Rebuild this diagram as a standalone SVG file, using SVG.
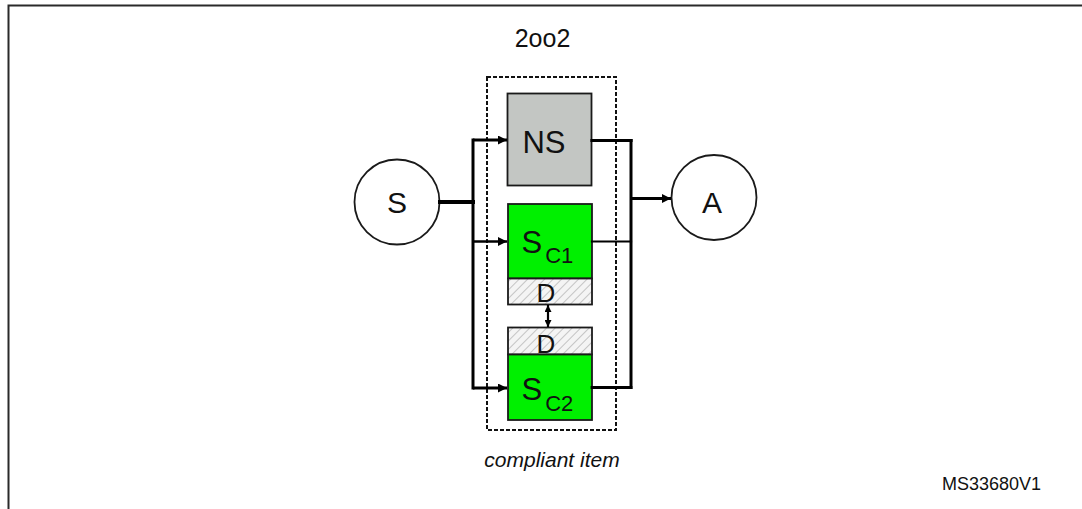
<svg xmlns="http://www.w3.org/2000/svg" width="1082" height="509" viewBox="0 0 1082 509">
<style>
text{font-family:"Liberation Sans",Arial,sans-serif;fill:#111}
.box{stroke:#1a1a1a;stroke-width:1.8}
.green{fill:#00f000}
.hatch{fill:url(#hatch)}
.conn{stroke:#000;fill:none;stroke-linecap:square}
</style>
<defs>
<pattern id="hatch" patternUnits="userSpaceOnUse" width="6" height="6" patternTransform="rotate(45)">
<rect width="6" height="6" fill="#f4f4f4"/>
<line x1="0" y1="0" x2="0" y2="6" stroke="#aaa" stroke-width="1.3"/>
</pattern>
<marker id="arr" markerUnits="userSpaceOnUse" markerWidth="9" markerHeight="9" viewBox="0 0 9 9" refX="9" refY="4.5" orient="auto">
<path d="M0,0 L9,4.5 L0,9 z" fill="#000"/>
</marker>
<marker id="sarr" markerUnits="userSpaceOnUse" markerWidth="7" markerHeight="7" viewBox="0 0 7 7" refX="7" refY="3.5" orient="auto-start-reverse">
<path d="M0,0 L7,3.5 L0,7 z" fill="#000"/>
</marker>
</defs>
<rect width="1082" height="509" fill="#fff"/>
<g id="frame">
<path d="M8.5,509 V5.5 H1082" fill="none" stroke="#2a2a2a" stroke-width="2"/>
</g>
<g id="compliant-item">
<rect x="487" y="77" width="129" height="353" fill="none" stroke="#111" stroke-width="2" stroke-dasharray="4,2"/>
<text x="542.5" y="47" font-size="25" text-anchor="middle">2oo2</text>
<text x="552" y="467" font-size="21" font-style="italic" text-anchor="middle">compliant item</text>
</g>
<g id="node-S">
<circle cx="397" cy="202" r="42.5" fill="#fff" stroke="#1a1a1a" stroke-width="1.8"/>
<text x="397" y="213" font-size="30" text-anchor="middle">S</text>
</g>
<g id="node-A">
<circle cx="714" cy="197.5" r="42.5" fill="#fff" stroke="#1a1a1a" stroke-width="1.8"/>
<text x="712" y="212.5" font-size="30" text-anchor="middle">A</text>
</g>
<g id="node-NS">
<rect class="box" x="507.5" y="93.5" width="84" height="92" fill="#c3c6c3"/>
<text x="544" y="153" font-size="31" text-anchor="middle">NS</text>
</g>
<g id="node-SC1">
<rect class="box green" x="508" y="204" width="84" height="74.5"/>
<rect class="box hatch" x="508" y="278.5" width="84" height="26"/>
<text x="521.5" y="253" font-size="31">S<tspan font-size="22" dx="3" dy="10">C1</tspan></text>
<text x="546" y="302" font-size="26" text-anchor="middle">D</text>
</g>
<g id="node-SC2">
<rect class="box hatch" x="508" y="327.5" width="84" height="27"/>
<rect class="box green" x="508" y="354.5" width="84" height="65.5"/>
<text x="521.5" y="400" font-size="31">S<tspan font-size="22" dx="3" dy="10.5">C2</tspan></text>
<text x="546" y="352.5" font-size="26" text-anchor="middle">D</text>
</g>
<g id="label">
<text x="942" y="490" font-size="18">MS33680V1</text>
</g>
<g id="connectors">
<line class="conn" x1="440" y1="202" x2="473" y2="202" stroke-width="4"/>
<line class="conn" x1="473" y1="140" x2="473" y2="388" stroke-width="3"/>
<line class="conn" x1="473" y1="140" x2="507" y2="140" stroke-width="2.8" marker-end="url(#arr)" style="stroke-linecap:butt"/>
<line class="conn" x1="473" y1="241.5" x2="507" y2="241.5" stroke-width="2.5" marker-end="url(#arr)" style="stroke-linecap:butt"/>
<line class="conn" x1="473" y1="388" x2="507" y2="388" stroke-width="2.8" marker-end="url(#arr)" style="stroke-linecap:butt"/>
<line class="conn" x1="592" y1="140.5" x2="631" y2="140.5" stroke-width="3.2"/>
<line class="conn" x1="592" y1="241.5" x2="631" y2="241.5" stroke-width="2.2"/>
<line class="conn" x1="592" y1="387.5" x2="631" y2="387.5" stroke-width="2.8"/>
<line class="conn" x1="631" y1="140.5" x2="631" y2="387.5" stroke-width="3"/>
<line class="conn" x1="631" y1="198.5" x2="671" y2="198.5" stroke-width="3.2" marker-end="url(#arr)" style="stroke-linecap:butt"/>
<line class="conn" x1="548" y1="305" x2="548" y2="327" stroke-width="2.2" marker-start="url(#sarr)" marker-end="url(#sarr)" style="stroke-linecap:butt"/>
</g>
</svg>
